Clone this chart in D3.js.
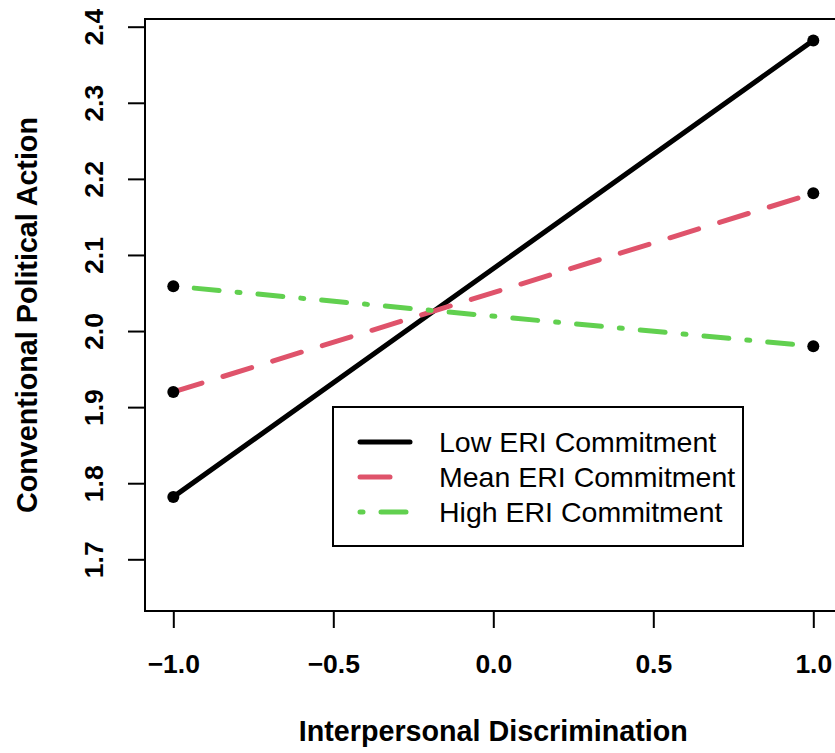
<!DOCTYPE html>
<html>
<head>
<meta charset="utf-8">
<script src="https://cdn.jsdelivr.net/npm/d3@7"></script>
<style>
  html, body { margin: 0; padding: 0; background: #fff; }
  svg { display: block; }
</style>
</head>
<body>
<svg id="chart" width="835" height="753"></svg>
<script>
// ---- data ----
const xValues = [-1, 1];
const lowValues = [1.782, 2.382];
const meanValues = [1.920, 2.181];
const highValues = [2.059, 1.980];
const seriesNames = ["Low ERI Commitment", "Mean ERI Commitment", "High ERI Commitment"];
const seriesColors = ["#000000", "#DF536B", "#61D04F"];
const seriesDash = [null, "30 22", "3 18 25 18"];
const xTicks = [-1.0, -0.5, 0.0, 0.5, 1.0];
const yTicks = [1.7, 1.8, 1.9, 2.0, 2.1, 2.2, 2.3, 2.4];
const xTitle = "Interpersonal Discrimination";
const yTitle = "Conventional Political Action";

const series = [lowValues, meanValues, highValues].map((vals, i) => ({
  name: seriesNames[i], color: seriesColors[i], dash: seriesDash[i],
  points: xValues.map((x, j) => ({ x, y: vals[j] }))
}));

const svg = d3.select("#chart");
const frame = { left: 145, right: 841, top: 19, bottom: 611 };

const x = d3.scaleLinear().domain([-1, 1]).range([173.3, 813.3]);
const y = d3.scaleLinear().domain([1.7, 2.4]).range([559.3, 26.7]);

const fmt = d => d < 0 ? "\u2212" + Math.abs(d).toFixed(1) : d.toFixed(1);

// frame
svg.append("rect")
  .attr("x", frame.left).attr("y", frame.top)
  .attr("width", frame.right - frame.left).attr("height", frame.bottom - frame.top)
  .attr("fill", "none").attr("stroke", "#000").attr("stroke-width", 2);

// x axis
const xAxis = d3.axisBottom(x).tickValues(xTicks).tickSize(17).tickPadding(15).tickFormat(fmt);
const gx = svg.append("g").attr("transform", `translate(0,${frame.bottom})`).call(xAxis);
gx.select(".domain").remove();
gx.selectAll(".tick line").attr("stroke", "#000").attr("stroke-width", 2);
gx.selectAll(".tick text")
  .attr("fill", "#000")
  .attr("font-family", "Liberation Sans, Arial, sans-serif")
  .attr("font-weight", "bold").attr("font-size", 26.5)
  .attr("dy", null).attr("y", 62);

// y axis
const yAxis = d3.axisLeft(y).tickValues(yTicks).tickSize(17).tickFormat(d => d.toFixed(1));
const gy = svg.append("g").attr("transform", `translate(${frame.left},0)`).call(yAxis);
gy.select(".domain").remove();
gy.selectAll(".tick line").attr("stroke", "#000").attr("stroke-width", 2);
gy.selectAll(".tick text")
  .attr("fill", "#000")
  .attr("font-family", "Liberation Sans, Arial, sans-serif")
  .attr("font-weight", "bold").attr("font-size", 26.5)
  .attr("x", null).attr("dy", null)
  .attr("text-anchor", "middle")
  .attr("transform", "translate(-42,0) rotate(-90)");

// axis titles
svg.append("text")
  .attr("x", x(0)).attr("y", 741)
  .attr("text-anchor", "middle")
  .attr("font-family", "Liberation Sans, Arial, sans-serif")
  .attr("font-weight", "bold").attr("font-size", 28.7)
  .attr("fill", "#000")
  .text(xTitle);

svg.append("text")
  .attr("transform", `translate(37,${(y(1.7) + y(2.4)) / 2 + 22}) rotate(-90)`)
  .attr("text-anchor", "middle")
  .attr("font-family", "Liberation Sans, Arial, sans-serif")
  .attr("font-weight", "bold").attr("font-size", 28.7)
  .attr("fill", "#000")
  .text(yTitle);

// lines
const line = d3.line().x(d => x(d.x)).y(d => y(d.y));
series.forEach(s => {
  svg.append("path")
    .datum(s.points)
    .attr("d", line)
    .attr("fill", "none")
    .attr("stroke", s.color)
    .attr("stroke-width", 5)
    .attr("stroke-linecap", "round")
    .attr("stroke-dasharray", s.dash);
});
// points
series.forEach(s => {
  svg.selectAll(null).data(s.points).enter().append("circle")
    .attr("cx", d => x(d.x)).attr("cy", d => y(d.y))
    .attr("r", 6).attr("fill", "#000");
});

// legend
const lg = svg.append("g");
lg.append("rect")
  .attr("x", 333).attr("y", 407).attr("width", 410).attr("height", 139)
  .attr("fill", "#fff").attr("stroke", "#000").attr("stroke-width", 2);
series.forEach((s, i) => {
  const ly = 442 + i * 35;
  lg.append("line")
    .attr("x1", 360).attr("x2", 410).attr("y1", ly).attr("y2", ly)
    .attr("stroke", s.color).attr("stroke-width", 5)
    .attr("stroke-linecap", "round")
    .attr("stroke-dasharray", s.dash);
  lg.append("text")
    .attr("x", 439).attr("y", ly + 10)
    .attr("font-family", "Liberation Sans, Arial, sans-serif")
    .attr("font-size", 28.5).attr("fill", "#000")
    .text(s.name);
});
</script>
</body>
</html>
